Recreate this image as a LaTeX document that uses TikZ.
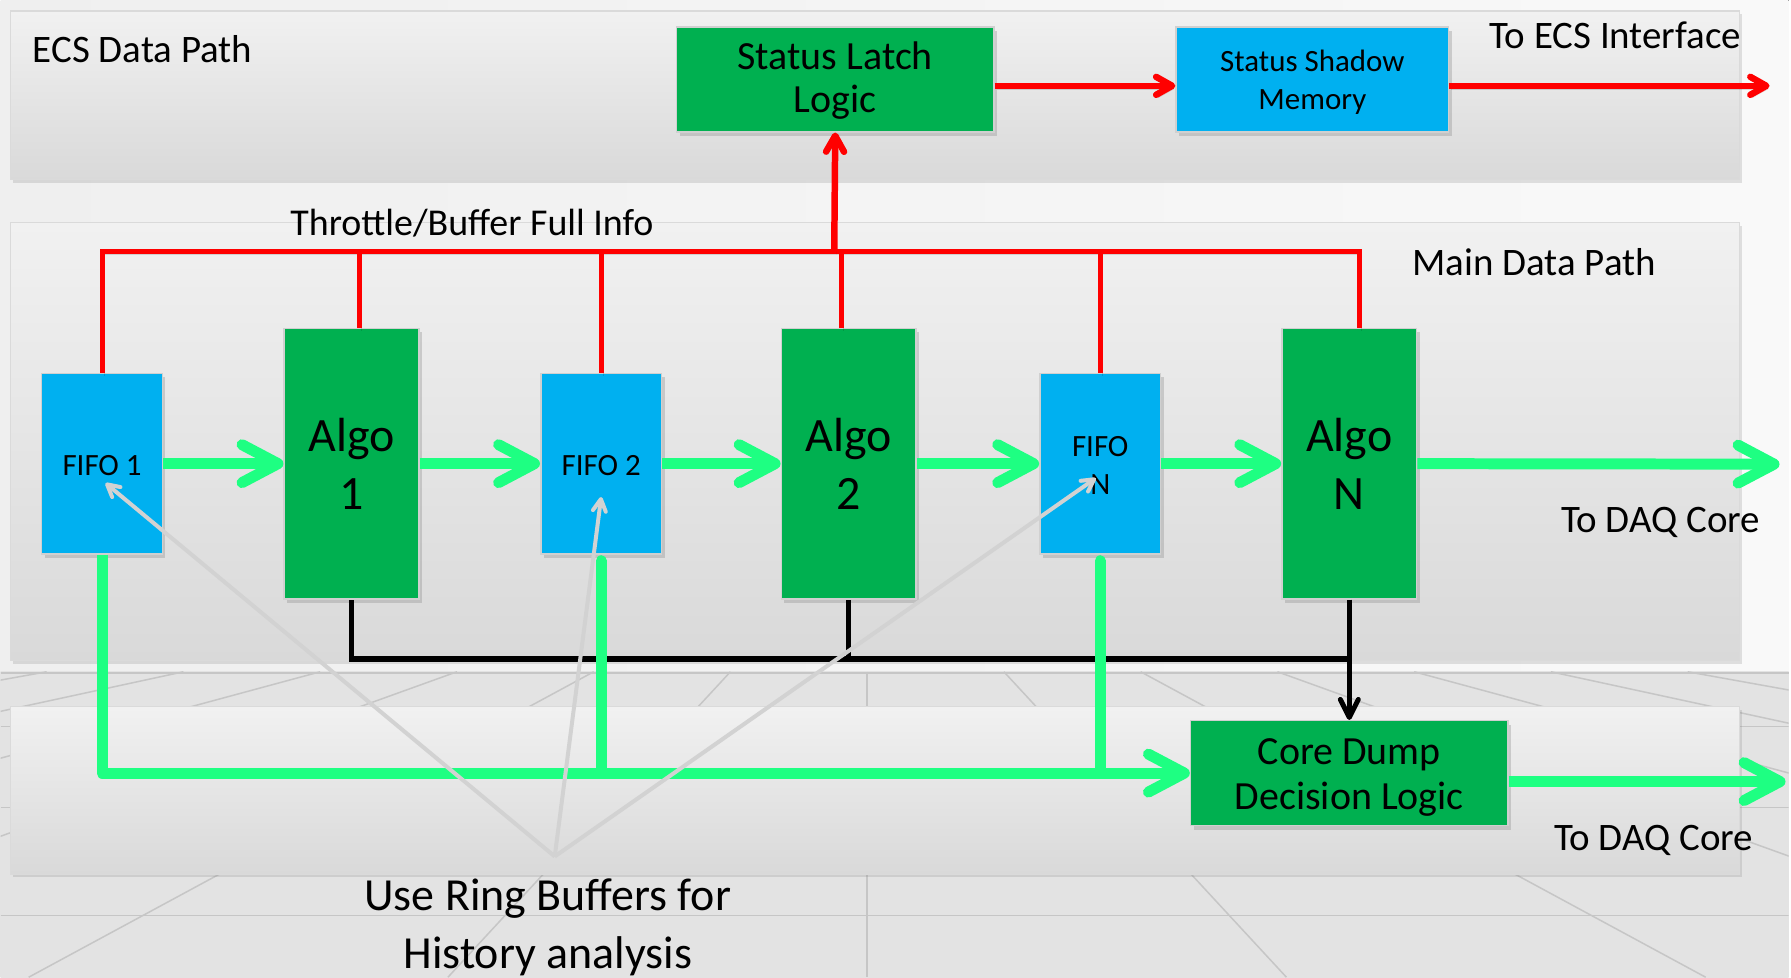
\documentclass[tikz,border=0pt]{standalone}
\usepackage{fontspec}
\setmainfont{Carlito}
\usetikzlibrary{arrows.meta,shadows,calc}

\definecolor{boxgreen}{HTML}{00B050}
\definecolor{boxblue}{HTML}{00B0F0}
\definecolor{boxedge}{HTML}{D0D0D0}
\definecolor{flow}{HTML}{1EFF82}
\definecolor{signal}{HTML}{FF0000}
\definecolor{ringnote}{HTML}{D2D2D2}
\definecolor{paneltop}{HTML}{F1F1F1}
\definecolor{panelbot}{HTML}{D9D9D9}
\definecolor{paneledge}{HTML}{DADADA}
\definecolor{wallleft}{HTML}{EFEFEF}
\definecolor{wallright}{HTML}{F9F9F9}
\definecolor{flooredge}{HTML}{E3E3E3}
\definecolor{floormid}{HTML}{FBFBFB}
\definecolor{floorgrid}{HTML}{C6C6C6}

\newcommand\fsz[2]{\fontsize{#1}{#2}\selectfont}

\begin{document}
\begin{tikzpicture}[x=1pt,y=-1pt,
  panel/.style={top color=paneltop, bottom color=panelbot, draw=paneledge, line width=1.2pt,
    drop shadow={opacity=0.22, shadow xshift=2pt, shadow yshift=-3pt}},
  blk/.style={draw=boxedge, line width=1.5pt, inner sep=0pt,
    drop shadow={opacity=0.3, shadow xshift=3pt, shadow yshift=-4pt}},
  greenblk/.style={blk, fill=boxgreen},
  blueblk/.style={blk, fill=boxblue},
  fifo/.style={blueblk, minimum width=121pt, minimum height=181pt},
  algo/.style={greenblk, minimum width=135pt, minimum height=271pt},
  wide/.style={minimum width=318pt, minimum height=105pt},
  boxtext/.style={inner sep=0pt, align=center},
  lbl/.style={inner sep=0pt, font=\fsz{39}{44}},
  castshadow/.style={preaction={draw=black, opacity=0.13, transform canvas={shift={(2pt,-3pt)}}}},
  flowline/.style={draw=flow, line width=11pt, castshadow},
  flowarrow/.style={flowline, -{Straight Barb[length=36pt,width=38pt,round]}},
  sigline/.style={draw=signal, line width=5pt, castshadow},
  sigarrow/.style={draw=signal, line width=6.5pt, castshadow, -{Straight Barb[length=16pt,width=18pt,round]}},
  ctrlline/.style={draw=black, line width=5.5pt, line cap=rect},
  ctrlarrow/.style={draw=black, line width=5pt, -{Straight Barb[length=18pt,width=18pt,round]}},
  notearrow/.style={draw=ringnote, line width=4pt, -{Straight Barb[length=12pt,width=13pt,round]}},
  floorstroke/.style={draw=floorgrid, line width=1.5pt}
]
% ---- backdrop: wall and perspective floor
\fill[left color=wallleft, right color=wallright] (0,0) rectangle (1791,979);
\fill[left color=flooredge, middle color=floormid, right color=flooredge] (0,673) rectangle (1791,979);
\begin{scope}
  \clip (0,673) rectangle (1791,979);
  \foreach \k in {-6,...,6} \draw[floorstroke] ({868+137*\k},673) -- ({868+420*\k},979);
  \foreach \r in {728,809,917} \draw[floorstroke] (0,\r) -- (1791,\r);
\end{scope}
\draw[floorstroke] (0,674) -- (1791,674);

% ---- the three layer panels
\path[panel] (10,11) rectangle (1742,180);
\path[panel] (10,223) rectangle (1742,662);
\path[panel] (10,708) rectangle (1742,876);

% ---- free labels
\node[lbl, anchor=base west] (ecs) at (32,63) {ECS Data Path};
\node[lbl, anchor=base west] (ecsout) at (1491,49) {To ECS Interface};
\node[lbl, anchor=base west, font=\fsz{38}{44}] (thr) at (290,236) {Throttle/Buffer Full Info};
\node[lbl, anchor=base west] (mainlbl) at (1414,276) {Main Data Path};
\node[lbl, anchor=base west] (daq1) at (1563,533) {To DAQ Core};
\node[lbl, anchor=base west] (daq2) at (1556,852) {To DAQ Core};
\node[lbl, align=center, font=\fsz{46}{58}] (ringtxt) at (548,929) {Use Ring Buffers for\\History analysis};

% ---- anchor points for buses and outputs
\coordinate (busjoin) at (835,252);
\coordinate (ctrlbus) at (1351,660);
\coordinate (ecsend) at (1772,86);
\coordinate (daqend1) at (1782,465);
\coordinate (daqend2) at (1788,783);
\coordinate (ringsrc) at (555,858);

% ---- throttle / buffer-full status bus (red)
\path (836,79.5) coordinate (latchc) (1314,79.5) coordinate (shadowc)
      (101.5,464.5) coordinate (f1c) (351.5,464.5) coordinate (a1c)
      (601.5,464.5) coordinate (f2c) (849.5,464.5) coordinate (a2c)
      (1101.5,464.5) coordinate (fNc) (1351,464.5) coordinate (aNc)
      (1351,774.5) coordinate (corec);

% ---- blocks
\node[greenblk, wide] (latch) at (latchc) {};
\node[boxtext, font=\fsz{40}{43}] (latchtxt) at ([yshift=-1pt]latch.center) {Status Latch\\Logic};
\node[blueblk, minimum width=273pt, minimum height=105pt] (shadowmem) at (shadowc) {};
\node[boxtext, font=\fsz{31}{38}] (shadowtxt) at ([yshift=-3pt]shadowmem.center) {Status Shadow\\Memory};
\node[fifo] (fifo1) at (f1c) {};
\node[boxtext, font=\fsz{31}{38}] (fifo1txt) at ([yshift=-2pt]fifo1.center) {FIFO 1};
\node[algo] (algo1) at (a1c) {};
\node[boxtext, font=\fsz{48}{58}] (algo1txt) at (algo1.center) {Algo\\1};
\node[fifo] (fifo2) at (f2c) {};
\node[boxtext, font=\fsz{31}{38}] (fifo2txt) at ([yshift=-2pt]fifo2.center) {FIFO 2};
\node[algo] (algo2) at (a2c) {};
\node[boxtext, font=\fsz{48}{58}] (algo2txt) at (algo2.center) {Algo\\2};
\node[fifo] (fifoN) at (fNc) {};
\node[boxtext, font=\fsz{31}{38}] (fifoNtxt) at ([yshift=-2pt]fifoN.center) {FIFO\\N};
\node[algo] (algoN) at (aNc) {};
\node[boxtext, font=\fsz{48}{58}] (algoNtxt) at (algoN.center) {Algo\\N};
\node[greenblk, wide] (core) at (corec) {};
\node[boxtext, font=\fsz{40}{45}] (coretxt) at ([yshift=-4pt]core.center) {Core Dump\\Decision Logic};

% ---- throttle / buffer-full status bus (red)
\draw[sigline] (fifo1.north) |- (busjoin) -| ([xshift=10pt]algoN.north);
\foreach \n/\dx in {algo1/7.5, fifo2/0, algo2/-7.5, fifoN/0}
  \draw[sigline] ([xshift=\dx pt]\n.north) -- ([xshift=\dx pt]\n.north |- busjoin);
\draw[sigarrow] (busjoin) -- (latch.south);
\draw[sigarrow] (latch.east |- ecsend) -- (shadowmem.west |- ecsend);
\draw[sigarrow] (shadowmem.east |- ecsend) -- (ecsend);

% ---- trigger lines into the core dump logic (black)
\draw[ctrlline] ([yshift=-3pt]algo1.south) |- (ctrlbus);
\draw[ctrlline] ([yshift=-3pt]algo2.south) -- (algo2.south |- ctrlbus);
\draw[ctrlarrow] (algoN.south) -- (core.north);

% ---- main data flow (green)
\draw[flowarrow] (fifo1.east) -- (algo1.west);
\draw[flowarrow] (algo1.east) -- (fifo2.west);
\draw[flowarrow] (fifo2.east) -- (algo2.west);
\draw[flowarrow] (algo2.east) -- (fifoN.west);
\draw[flowarrow] (fifoN.east) -- (algoN.west);
\draw[flowarrow] (algoN.east) -- (daqend1);
\draw[flowarrow, line join=round] (fifo1.south) |- (core.west);
\draw[flowline, line cap=round] ([yshift=-6pt]fifo2.south) -- (fifo2.south |- core.west);
\draw[flowline, line cap=round] ([yshift=-6pt]fifoN.south) -- (fifoN.south |- core.west);
\draw[flowarrow] (core.east |- daqend2) -- (daqend2);

% ---- ring buffer annotation
\draw[notearrow] (ringsrc) -- ($(fifo1.center)+(3.5,19.5)$);
\draw[notearrow] (ringsrc) -- ($(fifo2.center)+(0,33.5)$);
\draw[notearrow] (ringsrc) -- ($(fifoN.center)+(-4.5,14.5)$);

\path[use as bounding box] (0,0) rectangle (1791,979);
\end{tikzpicture}
\end{document}
